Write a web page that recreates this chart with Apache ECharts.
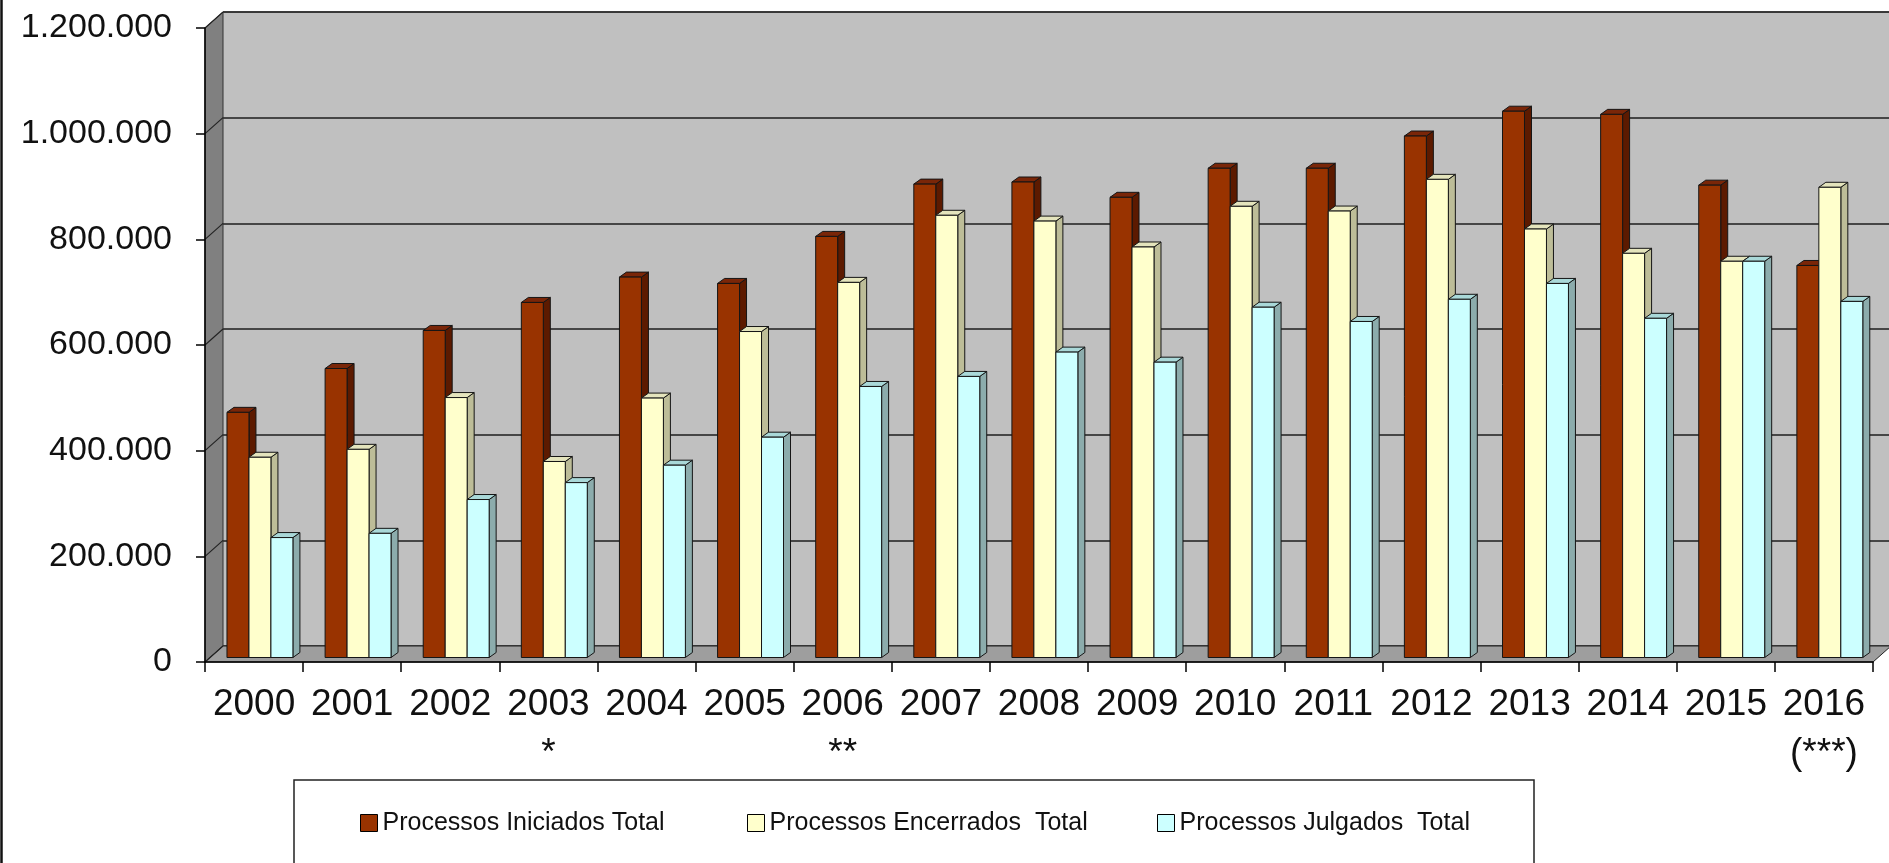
<!DOCTYPE html>
<html><head><meta charset="utf-8">
<script src="https://cdn.jsdelivr.net/npm/echarts@6/dist/echarts.min.js"></script>
<style>html,body{margin:0;padding:0;background:#fff}#c{width:1889px;height:863px}</style>
</head><body><div id="c"></div>
<script>
// ---- data ----
const categories = ['2000','2001','2002','2003\n*','2004','2005','2006\n**','2007','2008','2009','2010','2011','2012','2013','2014','2015','2016\n(***)'];
const iniciados  = [464000,547000,619000,672000,720000,708000,797000,896000,900000,871000,926000,926000,987000,1034000,1028000,894000,742000];
const encerrados = [379000,394000,492000,371000,491000,617000,710000,837000,826000,777000,854000,845000,905000,811000,765000,750000,890000];
const julgados   = [227000,235000,299000,331000,364000,417000,513000,532000,578000,559000,663000,636000,678000,708000,642000,750000,674000];
const seriesNames = ['Processos Iniciados Total','Processos Encerrados  Total','Processos Julgados  Total'];
const yTickLabels = ['0','200.000','400.000','600.000','800.000','1.000.000','1.200.000'];
const yMin = 0, yMax = 1200000, yInterval = 200000;

// ---- style ----
const FONT = "'Liberation Sans', Arial, sans-serif";
const palettes = [
  {front:'#993300', top:'#7a2608', side:'#5c1a00'},
  {front:'#ffffcc', top:'#e4e4bc', side:'#bdbd98'},
  {front:'#ccffff', top:'#a9d8d8', side:'#8cacac'}
];
const WALL_D = [18, -16];
const BAR_D = [7, -5];
const PLANE = 4.5;

function barRender(k){
  const c = palettes[k];
  return function(params, api){
    const i = api.value(0), v = api.value(1);
    const base = api.coord([i, 0]);
    const top = api.coord([i, v]);
    const band = api.size([1, 0])[0];
    const w = band * 0.224;
    const x0 = base[0] - 1.5 * w + band * 0.06 + k * w;
    const yb = base[1] - PLANE, yt = top[1] - PLANE;
    const dx = BAR_D[0], dy = BAR_D[1];
    const st = {stroke:'#151515', lineWidth:1};
    return {type:'group', children:[
      {type:'polygon', shape:{points:[[x0+w,yt],[x0+w+dx,yt+dy],[x0+w+dx,yb+dy],[x0+w,yb]]}, style:Object.assign({fill:c.side}, st)},
      {type:'polygon', shape:{points:[[x0,yt],[x0+w,yt],[x0+w+dx,yt+dy],[x0+dx,yt+dy]]}, style:Object.assign({fill:c.top}, st)},
      {type:'rect', shape:{x:x0, y:yt, width:w, height:yb-yt}, style:Object.assign({fill:c.front}, st)}
    ]};
  };
}

function wallRender(params, api){
  const band = api.size([1, 0])[0];
  const p0 = api.coord([0, yMin]);
  const pN = api.coord([categories.length - 1, yMin]);
  const left = p0[0] - band / 2, right = pN[0] + band / 2, y0 = p0[1];
  const yTop = api.coord([0, yMax])[1];
  const dx = WALL_D[0], dy = WALL_D[1];
  const children = [
    {type:'polygon', shape:{points:[[left,y0],[left,yTop],[left+dx,yTop+dy],[left+dx,y0+dy]]}, style:{fill:'#808080', stroke:'#333', lineWidth:1}},
    {type:'polygon', shape:{points:[[left,y0],[right,y0],[right+dx,y0+dy],[left+dx,y0+dy]]}, style:{fill:'#9e9e9e', stroke:'#222', lineWidth:1}}
  ];
  for (let v = yMin; v <= yMax; v += yInterval) {
    const y = api.coord([0, v])[1];
    children.push({type:'line', shape:{x1:left, y1:y, x2:left+dx, y2:y+dy}, style:{stroke:'#222', lineWidth:1.2}});
  }
  children.push({type:'line', shape:{x1:left+dx, y1:yTop+dy, x2:right+dx+40, y2:yTop+dy}, style:{stroke:'#333', lineWidth:1.5}});
  return {type:'group', children};
}

const chart = echarts.init(document.getElementById('c'), null, {renderer:'canvas'});
const FRONT = {left:205, top:28, width:1668, height:634};

chart.setOption({
  animation:false,
  backgroundColor:'#ffffff',
  grid:[
    Object.assign({containLabel:false}, FRONT),
    {left:FRONT.left+WALL_D[0], top:FRONT.top+WALL_D[1], width:FRONT.width, height:FRONT.height, show:true, backgroundColor:'#c0c0c0', borderWidth:0}
  ],
  xAxis:[
    {type:'category', gridIndex:0, data:categories, boundaryGap:true,
     axisLine:{show:true, lineStyle:{color:'#000', width:1.5}},
     axisTick:{show:true, inside:false, length:10, lineStyle:{color:'#000', width:1.5}},
     axisLabel:{interval:0, margin:18, fontSize:37, lineHeight:49, color:'#111', fontFamily:FONT},
     splitLine:{show:false}, z:5},
    {type:'category', gridIndex:1, data:categories, axisLine:{show:false}, axisTick:{show:false}, axisLabel:{show:false}, splitLine:{show:false}}
  ],
  yAxis:[
    {type:'value', gridIndex:0, min:yMin, max:yMax, interval:yInterval,
     axisLine:{show:true, lineStyle:{color:'#000', width:1.5}},
     axisTick:{show:true, inside:false, length:9, lineStyle:{color:'#000', width:1.5}},
     axisLabel:{margin:33, fontSize:34, color:'#111', fontFamily:FONT,
       formatter:function(v){ return yTickLabels[Math.round((v - yMin) / yInterval)]; }},
     splitLine:{show:false}, z:5},
    {type:'value', gridIndex:1, min:yMin, max:yMax, interval:yInterval,
     axisLine:{show:false}, axisTick:{show:false}, axisLabel:{show:false},
     splitLine:{show:true, lineStyle:{color:'#1e1e1e', width:1.6}}}
  ],
  legend: seriesNames.map(function(n, k){
    return {data:[n], left:[360, 747, 1157][k], top:810, padding:0, orient:'horizontal',
      itemWidth:17, itemHeight:17, icon:'rect', selectedMode:false,
      itemStyle:{borderColor:'#000', borderWidth:1},
      textStyle:{fontSize:25, lineHeight:26, color:'#111', fontFamily:FONT}};
  }),
  graphic:[
    {type:'rect', z:1, shape:{x:294, y:780, width:1240, height:120}, style:{fill:'#fff', stroke:'#222', lineWidth:1.5}},
    {type:'line', z:1, shape:{x1:1.5, y1:0, x2:1.5, y2:863}, style:{stroke:'#111', lineWidth:2.5}}
  ],
  series:[
    {type:'custom', name:'walls', xAxisIndex:0, yAxisIndex:0, data:[[0,0]], renderItem:wallRender, silent:true, z:1, clip:false},
    {type:'custom', name:seriesNames[0], xAxisIndex:0, yAxisIndex:0, itemStyle:{color:palettes[0].front},
     data:iniciados.map(function(v,i){return [i,v];}), encode:{x:0,y:1}, renderItem:barRender(0), z:2, clip:false},
    {type:'custom', name:seriesNames[1], xAxisIndex:0, yAxisIndex:0, itemStyle:{color:palettes[1].front},
     data:encerrados.map(function(v,i){return [i,v];}), encode:{x:0,y:1}, renderItem:barRender(1), z:3, clip:false},
    {type:'custom', name:seriesNames[2], xAxisIndex:0, yAxisIndex:0, itemStyle:{color:palettes[2].front},
     data:julgados.map(function(v,i){return [i,v];}), encode:{x:0,y:1}, renderItem:barRender(2), z:4, clip:false}
  ]
});
</script></body></html>
